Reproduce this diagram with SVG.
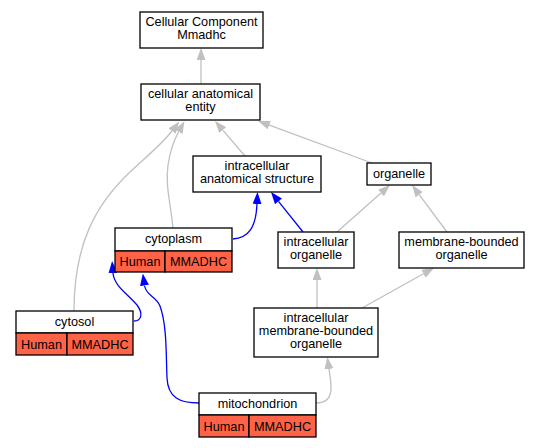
<svg xmlns="http://www.w3.org/2000/svg" width="539" height="448" viewBox="0 0 539 448">
<style>
.box{fill:#ffffff;stroke:#000000;stroke-width:1.3}
.cell{fill:#ff6347;stroke:#000000;stroke-width:1.3}
text{font-family:"Liberation Sans",Arial,sans-serif;font-size:12.7px;fill:#000000;text-anchor:middle}
.g{fill:none;stroke:#c0c0c0;stroke-width:1.3;marker-end:url(#ag)}
.b{fill:none;stroke:#0000ff;stroke-width:1.3;marker-end:url(#ab)}
</style>
<defs>
<marker id="ag" markerUnits="userSpaceOnUse" markerWidth="12" markerHeight="9" viewBox="0 0 12 9" refX="0" refY="4.5" orient="auto"><path d="M0,0 L12,4.5 L0,9 z" fill="#c0c0c0"/></marker>
<marker id="ab" markerUnits="userSpaceOnUse" markerWidth="12" markerHeight="9" viewBox="0 0 12 9" refX="0" refY="4.5" orient="auto"><path d="M0,0 L12,4.5 L0,9 z" fill="#0000ff"/></marker>
</defs>
<rect x="0" y="0" width="539" height="448" fill="#ffffff"/>
<g id="edges">
<path class="g" d="M201,84 L201,60"/>
<path class="g" d="M245,156 L222.8,130.1"/>
<path class="g" d="M372,163 L269.3,125.2"/>
<path class="g" d="M74,311 C74,245 95,205 130,172 C146,157 162,144 172,131"/>
<path class="g" d="M173,228 C171,205 165,185 168,165 C170,152 174,140 178.6,131.7"/>
<path class="b" d="M233,239 C248,238 256,228 257,204"/>
<path class="b" d="M303,232 L278.5,201.4"/>
<path class="g" d="M337,232 L381,193"/>
<path class="g" d="M447,232 L419.2,194.6"/>
<path class="g" d="M317,308 L317,280"/>
<path class="g" d="M362,308 L423.5,273.8"/>
<path class="b" d="M134,321 C142,321 143,313 137,305 C128,294 114,286 113,273"/>
<path class="b" d="M199,403 C180,403 168,398 167,378 C166,355 167,325 160,306 C156,296 146,296 144.5,285.5"/>
<path class="g" d="M316,403 C326,403 331,398 331,388 C331,380 330,376 329,369"/>
</g>
<g id="cellular-component">
<rect class="box" x="140" y="12" width="123" height="36"/>
<text x="201.5" y="26">Cellular Component</text>
<text x="201.5" y="39">Mmadhc</text>
</g>
<g id="cellular-anatomical-entity">
<rect class="box" x="141" y="84" width="119" height="36"/>
<text x="200.5" y="98">cellular anatomical</text>
<text x="200.5" y="111">entity</text>
</g>
<g id="intracellular-anatomical-structure">
<rect class="box" x="193" y="156" width="128" height="36"/>
<text x="257" y="170">intracellular</text>
<text x="257" y="183">anatomical structure</text>
</g>
<g id="organelle">
<rect class="box" x="367" y="163" width="64" height="22"/>
<text x="399" y="178">organelle</text>
</g>
<g id="intracellular-organelle">
<rect class="box" x="278" y="232" width="76" height="36"/>
<text x="316" y="246">intracellular</text>
<text x="316" y="259">organelle</text>
</g>
<g id="membrane-bounded-organelle">
<rect class="box" x="399" y="232" width="125" height="36"/>
<text x="461.5" y="246">membrane-bounded</text>
<text x="461.5" y="259">organelle</text>
</g>
<g id="intracellular-membrane-bounded-organelle">
<rect class="box" x="254" y="308" width="124" height="49"/>
<text x="316" y="322">intracellular</text>
<text x="316" y="335">membrane-bounded</text>
<text x="316" y="348">organelle</text>
</g>
<g id="cytoplasm">
<rect class="box" x="115" y="228" width="117" height="23"/>
<rect class="cell" x="115" y="251" width="50" height="21"/>
<rect class="cell" x="165" y="251" width="67" height="21"/>
<text x="173.5" y="243">cytoplasm</text>
<text x="140" y="265.5">Human</text>
<text x="198.5" y="265.5">MMADHC</text>
</g>
<g id="cytosol">
<rect class="box" x="16" y="311" width="117" height="22"/>
<rect class="cell" x="16" y="333" width="51" height="22"/>
<rect class="cell" x="67" y="333" width="66" height="22"/>
<text x="74.5" y="326">cytosol</text>
<text x="41.5" y="348.5">Human</text>
<text x="100" y="348.5">MMADHC</text>
</g>
<g id="mitochondrion">
<rect class="box" x="199" y="393" width="117" height="22"/>
<rect class="cell" x="199" y="415" width="50" height="22"/>
<rect class="cell" x="249" y="415" width="67" height="22"/>
<text x="257.5" y="408">mitochondrion</text>
<text x="224" y="430.5">Human</text>
<text x="282.5" y="430.5">MMADHC</text>
</g>
</svg>
